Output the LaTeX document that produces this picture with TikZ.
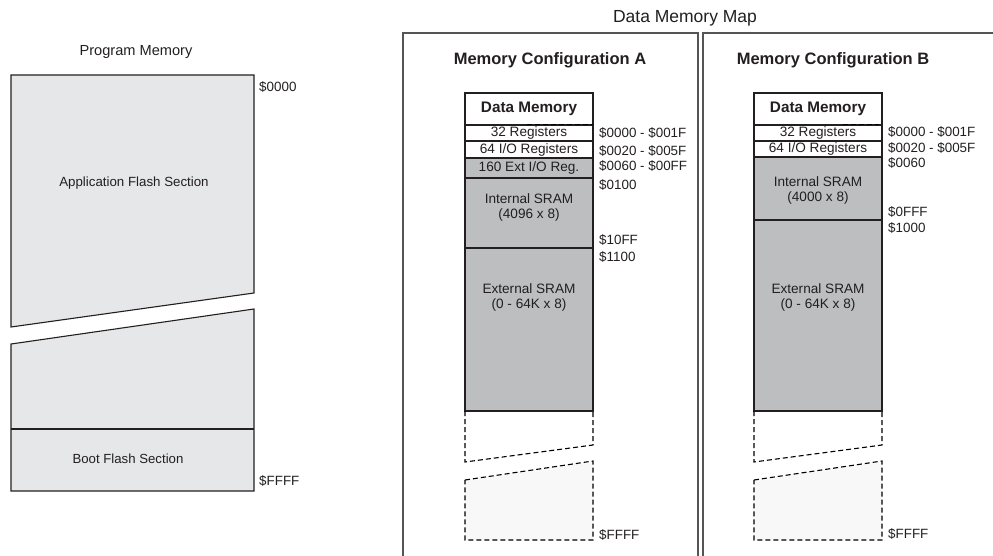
\documentclass[tikz,border=0pt]{standalone}
\usepackage{fontspec}
\setmainfont{Liberation Sans}
\usepackage{tikz}
\usetikzlibrary{positioning}
\definecolor{flashgray}{RGB}{230,231,232}
\definecolor{sramgray}{RGB}{188,190,192}
\definecolor{ghostgray}{RGB}{248,248,248}
\definecolor{inkgray}{RGB}{35,31,32}
\definecolor{framegray}{RGB}{85,85,85}

\begin{document}
\begin{tikzpicture}[x=1pt, y=-1pt,
  txt/.style={inner sep=0pt, text=inkgray, font=\fontsize{13.2}{15}\selectfont},
  addr/.style={txt, anchor=west, font=\fontsize{13.4}{15}\selectfont},
  cell/.style={draw=inkgray, line width=1.1pt, minimum width=128pt, inner sep=0pt, outer sep=0pt,
    anchor=north, text=inkgray, font=\fontsize{13.6}{15}\selectfont},
  cfgtitle/.style={txt, font=\bfseries\fontsize{16.5}{18}\selectfont},
  block/.style={draw=inkgray, line width=1.1pt, fill=flashgray},
  ghost/.style={draw=black, line width=1.1pt, dash pattern=on 5pt off 3pt},
  frame/.style={draw=framegray, line width=1.2pt}]

  \useasboundingbox (0,0) rectangle (993,556);

  % program memory
  \node[txt, font=\fontsize{14.6}{16}\selectfont] (progtitle) at (136,52) {Program Memory};
  \draw[block] (11,75) -- (254,75) -- (254,293) -- (11,327) -- cycle;
  \draw[block] (11,344) -- (254,309) -- (254,491) -- (11,491) -- cycle;
  \draw[draw=inkgray, line width=1.1pt] (11,429) -- (254,429);
  \node[txt, font=\fontsize{13.3}{15}\selectfont] (appflash) at (134,183) {Application Flash Section};
  \node[txt] (bootflash) at (128,459) {Boot Flash Section};
  \node[addr] (progtop) at (259,87) {\$0000};
  \node[addr] (progend) at (259,481) {\$FFFF};

  % data memory map
  \node[txt, font=\fontsize{17.5}{19}\selectfont] (maptitle) at (685,18) {Data Memory Map};
  \draw[frame] (403,558) -- (403,33) -- (698,33) -- (698,558);
  \draw[frame] (703,558) -- (703,33) -- (995,33);

  % configuration A
  \node[cfgtitle] (cfgA) at (550,60) {Memory Configuration A};
  \node[cell, minimum height=32pt, fill=white, font=\bfseries\fontsize{15.3}{17}\selectfont] (hdrA) at (529,93) {Data Memory};
  \node[cell, minimum height=16pt, fill=white, below=0pt of hdrA] (regA) {32 Registers};
  \node[cell, minimum height=17pt, fill=white, below=0pt of regA] (ioA) {64 I/O Registers};
  \node[cell, minimum height=20pt, fill=sramgray, below=0pt of ioA] (extioA) {160 Ext I/O Reg.};
  \node[cell, minimum height=70pt, fill=sramgray, below=0pt of extioA] (intA) {};
  \node[cell, minimum height=163pt, fill=sramgray, below=0pt of intA] (extA) {};
  \node[txt, font=\fontsize{13.6}{15}\selectfont, align=center, below=15pt of intA.north] (intAtxt) {Internal SRAM\\(4096 x 8)};
  \node[txt, font=\fontsize{13.6}{15}\selectfont, align=center, below=35pt of extA.north] (extAtxt) {External SRAM\\(0 - 64K x 8)};
  \draw[ghost] (527,124.5) -- (593,124.5);
  \draw[ghost] (465,411) -- (465,462) -- (593,445) -- (593,411);
  \draw[ghost, fill=ghostgray] (465,480) -- (593,461) -- (593,540) -- (465,540) -- cycle;
  \node[addr] (aA1) at (599,133) {\$0000 - \$001F};
  \node[addr] (aA2) at (599,151) {\$0020 - \$005F};
  \node[addr] (aA3) at (599,166) {\$0060 - \$00FF};
  \node[addr] (aA4) at (599,185) {\$0100};
  \node[addr] (aA5) at (599,240) {\$10FF};
  \node[addr] (aA6) at (599,257) {\$1100};
  \node[addr] (aA7) at (599,535) {\$FFFF};

  % configuration B
  \node[cfgtitle] (cfgB) at (833,60) {Memory Configuration B};
  \node[cell, minimum height=32pt, fill=white, font=\bfseries\fontsize{15.3}{17}\selectfont] (hdrB) at (818,93) {Data Memory};
  \node[cell, minimum height=16pt, fill=white, below=0pt of hdrB] (regB) {32 Registers};
  \node[cell, minimum height=16pt, fill=white, below=0pt of regB] (ioB) {64 I/O Registers};
  \node[cell, minimum height=63pt, fill=sramgray, below=0pt of ioB] (intB) {};
  \node[cell, minimum height=191pt, fill=sramgray, below=0pt of intB] (extB) {};
  \node[txt, font=\fontsize{13.6}{15}\selectfont, align=center, below=19pt of intB.north] (intBtxt) {Internal SRAM\\(4000 x 8)};
  \node[txt, font=\fontsize{13.6}{15}\selectfont, align=center, below=63pt of extB.north] (extBtxt) {External SRAM\\(0 - 64K x 8)};
  \draw[ghost] (843,124.5) -- (879,124.5);
  \draw[ghost] (754,411) -- (754,462) -- (882,445) -- (882,411);
  \draw[ghost, fill=ghostgray] (754,480) -- (882,461) -- (882,540) -- (754,540) -- cycle;
  \node[addr] (aB1) at (888,132) {\$0000 - \$001F};
  \node[addr] (aB2) at (888,148) {\$0020 - \$005F};
  \node[addr] (aB3) at (888,163) {\$0060};
  \node[addr] (aB4) at (888,212) {\$0FFF};
  \node[addr] (aB5) at (888,228) {\$1000};
  \node[addr] (aB6) at (888,534) {\$FFFF};
\end{tikzpicture}
\end{document}
